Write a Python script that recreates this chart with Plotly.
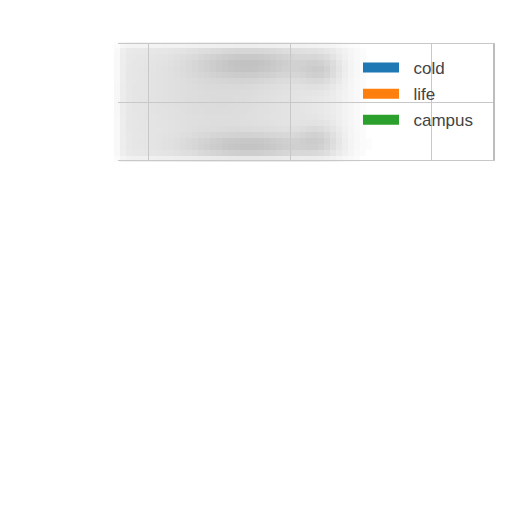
import math
import plotly.graph_objects as go

# legend entries (no visible marks in the reference)
series = ["cold", "life", "campus"]
colors = ["#1f77b4", "#ff7f0e", "#2ca02c"]
x_ticks = [0, 1, 2]
y_ticks = [1]

W, H = 512, 512
OFF = 8  # page body margin
left, right, top, bottom = 118, 493, 44, 160


def px(x):
    return (x - OFF) / W


def py(y):
    return 1 - (y - OFF) / H


fig = go.Figure()
for name, c in zip(series, colors):
    fig.add_trace(go.Scatter(x=[None], y=[None], mode="lines",
                             name="\u00a0\u00a0" + name, legendgroup=name,
                             line=dict(color=c, width=12)))

# blurred grey smudge (background decoration)
blobs = [(250, 64, 55, 16, 0.13), (250, 146, 60, 13, 0.13),
         (320, 70, 20, 15, 0.09), (318, 140, 20, 15, 0.08),
         (220, 100, 70, 45, 0.05)]


def shade(x, y):
    base = 0.09 / (1 + math.exp((x - 345) / 10))
    base *= 1 / (1 + math.exp((120 - x) / 3))
    fy = 1 / (1 + math.exp((y - 160) / 2)) / (1 + math.exp((45 - y) / 2))
    d = base
    for cx, cy, sx, sy, a in blobs:
        d += a * math.exp(-((x - cx) / sx) ** 2 - ((y - cy) / sy) ** 2)
    return min(d * fy, 0.24)


shapes = []
step = 6
for x0 in range(114, 372, step):
    for y0 in range(42, 164, step):
        d = shade(x0 + step / 2, y0 + step / 2)
        if d < 0.01:
            continue
        g = int(round(255 * (1 - d)))
        shapes.append(dict(type="rect", xref="paper", yref="paper",
                           x0=px(x0), x1=px(x0 + step),
                           y0=py(y0 + step), y1=py(y0),
                           fillcolor=f"rgb({g},{g},{g})",
                           line_width=0, layer="below"))

fig.update_layout(
    width=W, height=H,
    paper_bgcolor="white", plot_bgcolor="rgba(0,0,0,0)",
    margin=dict(l=0, r=0, t=0, b=0),
    showlegend=True,
    legend=dict(x=px(358), y=py(50), xanchor="left", yanchor="top",
                bgcolor="rgba(0,0,0,0)", itemwidth=36, tracegroupgap=1,
                font=dict(family="Liberation Sans, Arial", size=17, color="#444444")),
    shapes=shapes,
    xaxis=dict(domain=[px(left), px(right)], range=[-0.213, 2.43],
               tickvals=x_ticks, showticklabels=False, ticks="",
               showgrid=True, gridcolor="#c8c8c8", gridwidth=1, zeroline=False,
               showline=True, linecolor="#c8c8c8", mirror=True),
    yaxis=dict(domain=[py(bottom), py(top)], range=[0, 2], side="right",
               tickvals=y_ticks, showticklabels=False, ticks="",
               showgrid=True, gridcolor="#c8c8c8", gridwidth=1, zeroline=False,
               showline=True, linecolor="#bdbdbd", linewidth=1.5),
)

fig.write_html("out.html")
